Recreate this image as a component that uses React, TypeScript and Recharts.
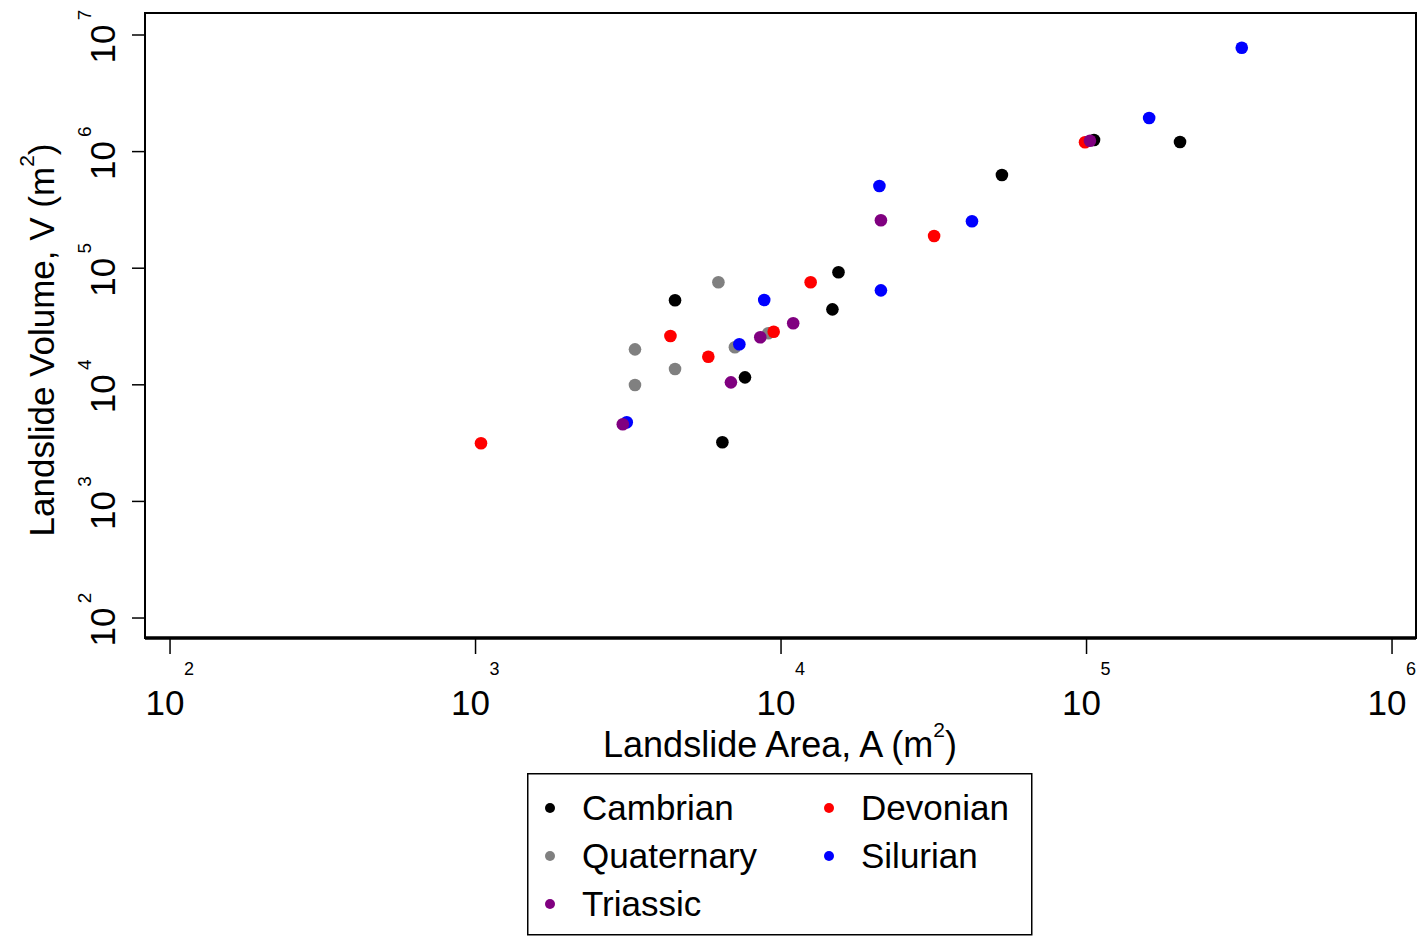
import React from 'react';
import { ScatterChart, Scatter, XAxis, YAxis, ReferenceArea, Legend } from 'recharts';

const xTicks = [1e2, 1e3, 1e4, 1e5, 1e6];
const yTicks = [1e2, 1e3, 1e4, 1e5, 1e6, 1e7];
const xDomain = [82.8, 1198000];
const yDomain = [67.4, 15440000];

const cambrianArea = [4498, 6427, 7621, 14730, 15420, 52850, 105800, 202300];
const cambrianVolume = [53080, 3214, 11590, 44390, 92250, 630000, 1257000, 1208000];

const quaternaryArea = [6237, 3326, 3326, 4498, 7063, 9082];
const quaternaryVolume = [75700, 20150, 9960, 13670, 20980, 27650];

const devonianArea = [1042, 4345, 5781, 9460, 12500, 31700, 98860];
const devonianVolume = [3150, 26230, 17420, 28530, 75700, 188800, 1202000];

const silurianArea = [3126, 7303, 8810, 20990, 21230, 42170, 160300, 322200];
const silurianVolume = [4767, 22250, 53350, 507000, 64600, 252600, 1941000, 7781000];

const triassicArea = [3034, 6855, 8551, 10960, 21230, 102600];
const triassicVolume = [4583, 10500, 25550, 33680, 257600, 1240000];

const FONT = '"Liberation Sans", Arial, sans-serif';

const toPoints = (a: number[], v: number[]) => a.map((x, i) => ({ a: x, v: v[i] }));

// drawing order (later on top)
const series = [
  { name: 'Cambrian', color: '#000000', data: toPoints(cambrianArea, cambrianVolume) },
  { name: 'Quaternary', color: '#808080', data: toPoints(quaternaryArea, quaternaryVolume) },
  { name: 'Devonian', color: '#FF0000', data: toPoints(devonianArea, devonianVolume) },
  { name: 'Silurian', color: '#0000FF', data: toPoints(silurianArea, silurianVolume) },
  { name: 'Triassic', color: '#800080', data: toPoints(triassicArea, triassicVolume) },
];

// legend order, column-major with 3 rows
const legendOrder = ['Cambrian', 'Quaternary', 'Triassic', 'Devonian', 'Silurian'];

const XTick = (props: any) => {
  const { x, payload } = props;
  const exp = Math.round(Math.log10(payload.value));
  return (
    <g>
      <text x={x - 5} y={715} textAnchor="middle" fontSize={35} fontFamily={FONT} fill="#000">10</text>
      <text x={x + 19} y={675} textAnchor="middle" fontSize={18} fontFamily={FONT} fill="#000">{exp}</text>
    </g>
  );
};

const YTick = (props: any) => {
  const { y, payload } = props;
  const exp = Math.round(Math.log10(payload.value));
  return (
    <g>
      <text transform={`translate(115, ${y + 9}) rotate(-90)`} textAnchor="middle" fontSize={35} fontFamily={FONT} fill="#000">10</text>
      <text transform={`translate(91, ${y - 20}) rotate(-90)`} textAnchor="middle" fontSize={19} fontFamily={FONT} fill="#000">{exp}</text>
    </g>
  );
};

const XTitle = () => (
  <text x={780} y={757} textAnchor="middle" fontSize={36} fontFamily={FONT} fill="#000">
    Landslide Area, A (m<tspan dy={-20} fontSize={21}>2</tspan><tspan dy={20}>)</tspan>
  </text>
);

const YTitle = () => (
  <text transform="translate(54, 340) rotate(-90)" textAnchor="middle" fontSize={35} fontFamily={FONT} fill="#000">
    Landslide Volume, V (m<tspan dy={-20} fontSize={21}>2</tspan><tspan dy={20}>)</tspan>
  </text>
);

const LegendBox = () => (
  <svg width={506} height={163} style={{ display: 'block' }}>
    <rect x={0.75} y={0.75} width={504} height={161} fill="#fff" stroke="#000" strokeWidth={1.5} />
    {legendOrder.map((name, i) => {
      const s = series.find((d) => d.name === name)!;
      const col = Math.floor(i / 3);
      const row = i % 3;
      const dx = col === 0 ? 23 : 302;
      const cy = 35 + row * 48;
      return (
        <g key={name}>
          <circle cx={dx} cy={cy} r={5} fill={s.color} />
          <text x={dx + 32} y={cy + 12} fontSize={35} fontFamily={FONT} fill="#000">{name}</text>
        </g>
      );
    })}
  </svg>
);

export default function App() {
  return (
    <div style={{ width: 1421, height: 936, background: '#fff', position: 'relative' }}>
      <style>{`body{margin:0;background:#fff}`}</style>
      <ScatterChart width={1421} height={936} margin={{ top: 13, right: 5, bottom: 0, left: 0 }}>
        <XAxis
          type="number"
          dataKey="a"
          scale="log"
          domain={xDomain}
          allowDataOverflow
          ticks={xTicks}
          height={298}
          tick={<XTick />}
          tickSize={16}
          tickLine={{ stroke: '#000', strokeWidth: 1.5 }}
          axisLine={{ stroke: '#000', strokeWidth: 3.5 }}
          label={<XTitle />}
          interval={0}
        />
        <YAxis
          type="number"
          dataKey="v"
          scale="log"
          domain={yDomain}
          allowDataOverflow
          ticks={yTicks}
          width={145}
          tick={<YTick />}
          tickSize={13}
          tickLine={{ stroke: '#000', strokeWidth: 1.5 }}
          axisLine={{ stroke: '#000', strokeWidth: 2 }}
          label={<YTitle />}
          interval={0}
        />
        <ReferenceArea
          x1={xDomain[0]}
          x2={xDomain[1]}
          y1={yDomain[0]}
          y2={yDomain[1]}
          fill="none"
          stroke="#000"
          strokeWidth={2}
          ifOverflow="visible"
        />
        {series.map((s) => (
          <Scatter
            key={s.name}
            name={s.name}
            data={s.data}
            fill={s.color}
            isAnimationActive={false}
            shape={(p: any) => <circle cx={p.cx} cy={p.cy} r={6.3} fill={s.color} />}
          />
        ))}
        <Legend
          layout="vertical"
          verticalAlign="middle"
          align="center"
          content={<LegendBox />}
          wrapperStyle={{ left: 527, top: 773, width: 506, height: 163, position: 'absolute' }}
        />
      </ScatterChart>
    </div>
  );
}
